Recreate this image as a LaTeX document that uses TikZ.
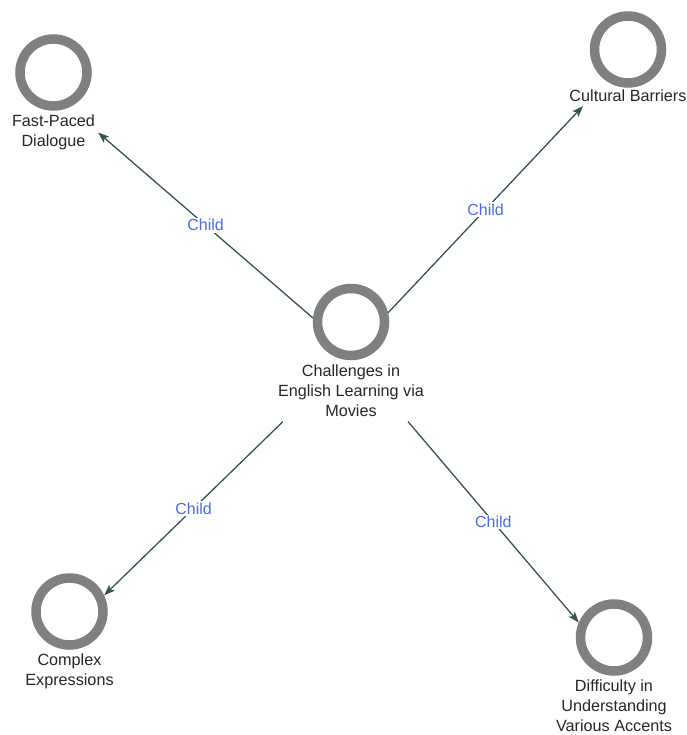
\documentclass[tikz,border=0pt]{standalone}
\usepackage{fontspec}
\setmainfont{Liberation Sans}
\usetikzlibrary{positioning,arrows.meta,scopes}
\definecolor{ringgray}{RGB}{128,128,128}
\definecolor{edgeteal}{RGB}{52,84,84}
\definecolor{childblue}{RGB}{72,110,228}
\begin{document}
\begin{tikzpicture}[x=1pt,y=-1pt,
    ring/.style={circle,draw=ringgray,line width=9.5pt,minimum size=67pt,inner sep=0pt,outer sep=4.75pt},
    lbl/.style={align=center,inner sep=2pt,font=\fontsize{16.2}{20}\selectfont,text=black!85},
    edge/.style={draw=edgeteal,line width=1.3pt,-{Stealth[length=11pt,width=8pt,inset=2.5pt]}},
    child/.style={text=childblue,fill=white,inner sep=1.5pt,font=\fontsize{16}{18}\selectfont},
]
	\useasboundingbox (0,0) rectangle (686,735);
	{[lbl]
	\node[ring] (cen) at (351,322) {}; % centre
	\node[below=2pt of cen] (cenl) {Challenges in\\English Learning via\\Movies};
	\node[ring] (fast) at (53.5,72.5) {}; % upper left
	\node[below=2pt of fast] (fastl) {Fast-Paced\\Dialogue};
	\node[ring] (cult) at (628,49.5) {}; % upper right
	\node[below=0pt of cult] (cultl) {Cultural Barriers};
	\node[ring] (cplx) at (69.5,611.5) {}; % lower left
	\node[below=2pt of cplx] (cplxl) {Complex\\Expressions};
	\node[ring] (diff) at (614,637.5) {}; % lower right
	\node[below=2pt of diff] (diffl) {Difficulty in\\Understanding\\Various Accents};
	}
	{[edge]
	\draw (cen.174) -- ([xshift=1pt]fastl.east) node[child,midway] {Child};
	\draw (cen.14) -- ([xshift=-45pt,yshift=-2pt]cultl.south) node[child,midway] {Child};
	\draw ([xshift=-68pt,yshift=-3pt]cenl.south) -- (cplx.25) node[child,midway] {Child};
	\draw ([xshift=57pt,yshift=-3pt]cenl.south) -- (diff.157) node[child,midway] {Child};
	}
\end{tikzpicture}
\end{document}
